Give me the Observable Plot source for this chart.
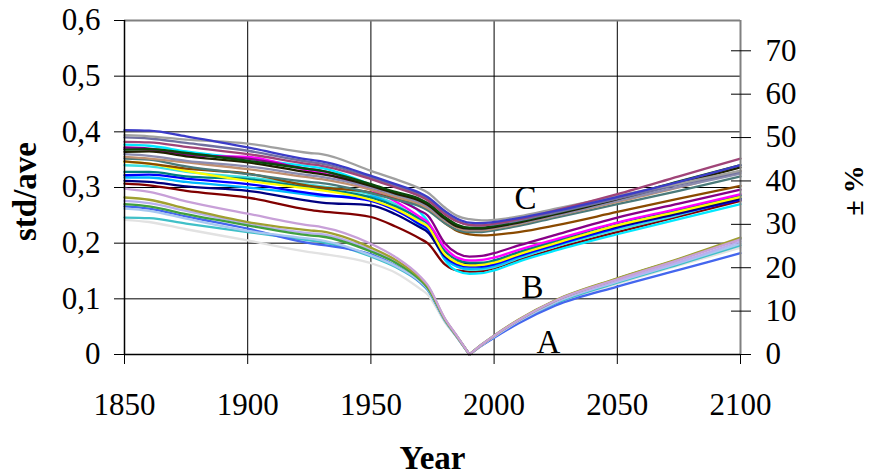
<!DOCTYPE html>
<html><head><meta charset="utf-8">
<script src="https://cdn.jsdelivr.net/npm/d3@7"></script>
<script src="https://cdn.jsdelivr.net/npm/@observablehq/plot@0.6"></script>
<style>body{margin:0;background:#fff} svg, svg text{font-family:'Liberation Serif',serif !important;font-variant:normal !important;}</style>
</head><body><div id="chart"></div>
<script>
// ---- data ----
const years = [1850, 1860, 1875, 1900, 1925, 1930, 1950, 1960, 1970, 1973, 1980, 1985, 1990, 1995, 2000, 2010, 2025, 2050, 2075, 2100];

// group C
const C1 = [.403,.402,.392,.372,.350,.347,.321,.306,.290,.283,.258,.244,.237,.236,.238,.245,.258,.283,.310,.340];
const C2 = [.394,.392,.386,.379,.362,.360,.330,.315,.298,.291,.264,.249,.243,.241,.242,.248,.262,.285,.307,.330];
const C3 = [.390,.388,.380,.366,.346,.343,.318,.303,.287,.280,.255,.240,.233,.232,.234,.241,.255,.280,.305,.328];
const C4 = [.382,.381,.373,.360,.342,.339,.315,.300,.284,.277,.252,.239,.233,.232,.235,.243,.259,.288,.320,.352];
const C5 = [.368,.369,.362,.348,.333,.330,.306,.292,.279,.272,.247,.233,.228,.228,.231,.239,.254,.281,.311,.340];
const C6 = [.364,.365,.356,.345,.327,.324,.303,.289,.276,.269,.244,.230,.226,.226,.229,.237,.252,.279,.307,.336];
const C7 = [.355,.352,.345,.333,.318,.315,.296,.283,.270,.263,.240,.228,.223,.223,.226,.234,.249,.274,.300,.330];
const C8 = [.352,.350,.338,.324,.310,.308,.290,.278,.266,.259,.236,.224,.220,.220,.223,.231,.246,.270,.294,.320];
const C9 = [.347,.343,.334,.325,.303,.300,.291,.279,.267,.261,.236,.222,.216,.214,.215,.220,.232,.256,.280,.303];
const C10 = [.360,.357,.348,.338,.322,.319,.300,.287,.273,.266,.242,.230,.225,.225,.228,.236,.250,.276,.301,.325];
// group B
const B1 = [.372,.370,.360,.352,.333,.330,.300,.280,.258,.250,.200,.182,.176,.177,.182,.196,.215,.246,.271,.296];
const B2 = [.370,.368,.358,.355,.330,.326,.296,.275,.247,.238,.192,.174,.169,.170,.174,.188,.207,.237,.262,.288];
const B3 = [.346,.343,.330,.312,.298,.295,.278,.262,.238,.230,.180,.165,.160,.161,.165,.180,.200,.232,.257,.283];
const B4 = [.328,.328,.320,.315,.300,.297,.282,.266,.244,.236,.186,.170,.165,.165,.169,.184,.204,.236,.260,.286];
const B5 = [.322,.323,.316,.306,.290,.287,.276,.259,.234,.226,.176,.162,.158,.158,.162,.177,.197,.228,.253,.278];
const B6 = [.318,.318,.310,.300,.287,.284,.284,.264,.232,.224,.172,.158,.154,.155,.159,.175,.196,.228,.256,.285];
const B7 = [.312,.310,.302,.294,.276,.273,.268,.252,.228,.220,.177,.166,.163,.163,.168,.182,.201,.230,.254,.280];
const B8 = [.307,.304,.294,.282,.260,.257,.247,.230,.208,.200,.162,.151,.149,.150,.155,.170,.190,.220,.248,.276];
const B9 = [.377,.375,.365,.352,.338,.335,.305,.285,.255,.240,.170,.150,.145,.146,.151,.167,.187,.216,.243,.270];
const B10 = [.340,.338,.328,.318,.305,.302,.287,.270,.240,.230,.175,.158,.152,.153,.157,.173,.194,.224,.251,.281];
// group A
const A1 = [.298,.292,.275,.253,.232,.229,.199,.175,.140,.125,.065,.033,0,.018,.034,.062,.097,.135,.170,.207];
const A2 = [.282,.278,.262,.238,.223,.221,.192,.170,.137,.123,.064,.032,0,.018,.034,.063,.098,.137,.172,.210];
const A3 = [.276,.272,.258,.235,.218,.216,.188,.167,.135,.121,.063,.032,0,.017,.033,.061,.095,.132,.166,.203];
const A4 = [.270,.266,.252,.232,.214,.212,.185,.165,.134,.120,.063,.032,0,.018,.034,.062,.097,.136,.171,.208];
const A5 = [.266,.262,.248,.226,.200,.197,.180,.160,.130,.117,.062,.031,0,.016,.030,.056,.088,.122,.152,.182];
const A6 = [.246,.245,.235,.220,.205,.202,.176,.157,.129,.116,.061,.031,0,.017,.032,.059,.092,.129,.162,.196];
const A7 = [.242,.238,.225,.205,.184,.181,.164,.147,.118,.108,.058,.030,0,.016,.031,.058,.091,.127,.160,.192];
const A8 = [.262,.258,.244,.222,.208,.205,.178,.159,.131,.118,.062,.031,0,.017,.032,.060,.094,.131,.164,.199];

const seriesList = [A7, A6, A5, A8, A3, A4, A2, A1,
                    B8, B9, B10, B6, B5, B7, B4, B3, B2, B1,
                    C9, C8, C7, C10, C6, C5, C3, C2, C4, C1];
const seriesGroup = ["A","A","A","A","A","A","A","A",
                     "B","B","B","B","B","B","B","B","B","B",
                     "C","C","C","C","C","C","C","C","C","C"];
const palette = ["#e2e2e2","#40c0c8","#4466ee","#a8c8f0","#b8b0f0","#40a040","#a0a030","#c8a0d8",
                 "#800000","#00e8ff","#40e0e0","#00b8ff","#0000ff","#000080","#008080","#ffff00","#ff00ff","#880088",
                 "#8a4a00","#4a7a7a","#c09070","#8c8cb0","#202000","#0a4a0a","#7070a0","#a0a0a0","#a04478","#3c3cc8"];

const yTicks = [0, 0.1, 0.2, 0.3, 0.4, 0.5, 0.6];
const yTickLabels = ["0", "0,1", "0,2", "0,3", "0,4", "0,5", "0,6"];
const xTicks = [1850, 1900, 1950, 2000, 2050, 2100];
const pctTicks = [0, 10, 20, 30, 40, 50, 60, 70];
const pctPerUnit = 128.3; // right-axis % per unit std/ave
const letterLabels = ["C", "B", "A"];
const letterYears = [2012.7, 2015.6, 2022];
const letterValues = [0.281, 0.121, 0.0224];

// ---- build table ----
const rows = [];
seriesList.forEach((vals, s) => {
  vals.forEach((v, i) => {
    const yr = years[i];
    if (seriesGroup[s] === "A") {
      if (yr <= 1990) rows.push({key: s + "a", color: palette[s], year: yr, value: v});
      if (yr >= 1990) rows.push({key: s + "b", color: palette[s], year: yr, value: v});
    } else {
      rows.push({key: s + "", color: palette[s], year: yr, value: v});
    }
  });
});

const pctPos = pctTicks.map(p => p / pctPerUnit);
const serif = "Liberation Serif";

const chart = Plot.plot({
  width: 870, height: 476,
  marginLeft: 124, marginRight: 130, marginTop: 20, marginBottom: 122,
  style: "font-family: 'Liberation Serif', serif; font-size: 31px; background: #fff; color: #000;",
  x: {domain: [1850, 2100], label: null},
  y: {domain: [0, 0.6], label: null},
  color: {type: "identity"},
  marks: [
    Plot.gridY(yTicks.slice(1, 6), {stroke: "#000", strokeOpacity: 1, strokeWidth: 1}),
    Plot.gridX(xTicks.slice(1, 5), {stroke: "#000", strokeOpacity: 1, strokeWidth: 1}),
    Plot.line(rows, {x: "year", y: "value", z: "key", stroke: "color", strokeWidth: 2.3, curve: "monotone-x"}),
    Plot.ruleY([0.6], {stroke: "#808080", strokeWidth: 2}),
    Plot.ruleX([2100], {stroke: "#808080", strokeWidth: 2}),
    Plot.ruleX([1850], {stroke: "#000", strokeWidth: 1.5}),
    Plot.ruleY([0], {stroke: "#000", strokeWidth: 1.5}),
    Plot.axisY({anchor: "left", ticks: yTicks, tickSize: 10, tickPadding: 14, fontSize: 31, fontFamily: serif, fontVariant: "normal",
                tickFormat: (d) => yTickLabels[yTicks.indexOf(d)], label: null}),
    Plot.axisX({anchor: "bottom", ticks: xTicks, tickSize: 10, tickPadding: 28, fontSize: 31, fontFamily: serif, fontVariant: "normal",
                tickFormat: d => String(d), label: null}),
    Plot.axisY({anchor: "right", ticks: pctPos, tickSize: 20, dx: -10, tickFormat: () => "", label: null}),
    Plot.axisY({anchor: "right", ticks: pctPos, tickSize: 0, tickPadding: 25, fontSize: 31, fontFamily: serif, fontVariant: "normal",
                tickFormat: d => String(Math.round(d * pctPerUnit)), label: null}),
    Plot.text(letterLabels, {x: (d, i) => letterYears[i], y: (d, i) => letterValues[i], fontSize: 33, fontFamily: serif}),
    Plot.text(["std/ave"], {frameAnchor: "left", textAnchor: "middle", lineAnchor: "middle", rotate: -90, dx: -99, dy: 4, fontSize: 33, fontWeight: "bold", fontFamily: serif}),
    Plot.text(["Year"], {frameAnchor: "bottom", textAnchor: "middle", lineAnchor: "middle", dy: 104, fontSize: 33, fontWeight: "bold", fontFamily: serif}),
    Plot.text(["± %"], {frameAnchor: "right", textAnchor: "middle", lineAnchor: "middle", rotate: -90, dx: 114, dy: 3, fontSize: 28, fontWeight: "bold", fontFamily: serif})
  ]
});
document.getElementById("chart").appendChild(chart);
</script>
</body></html>
